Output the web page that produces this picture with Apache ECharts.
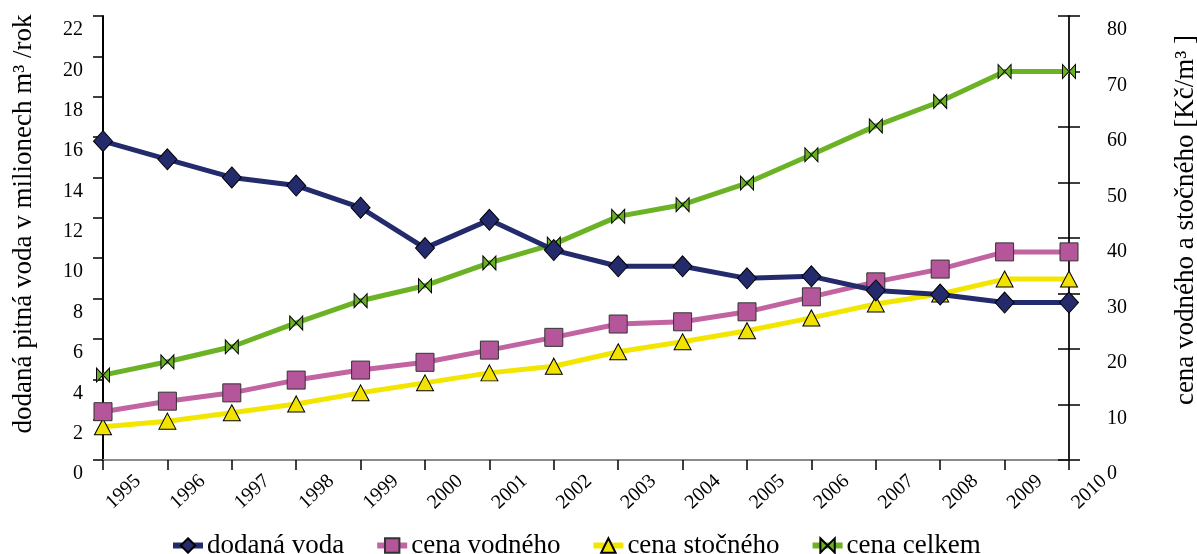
<!DOCTYPE html>
<html>
<head>
<meta charset="utf-8">
<script src="https://cdn.jsdelivr.net/npm/echarts@6/dist/echarts.min.js"></script>
<style>
  html, body { margin: 0; padding: 0; background: #fff; }
  #chart { width: 1197px; height: 554px; }
</style>
</head>
<body>
<div id="chart"></div>
<script>
// Years on the horizontal axis
const years = ['1995','1996','1997','1998','1999','2000','2001','2002','2003','2004','2005','2006','2007','2008','2009','2010'];

// Supplied drinking water, millions of m3 per year (left axis)
const dodanaVoda = [15.8, 14.9, 14.0, 13.6, 12.5, 10.5, 11.9, 10.4, 9.6, 9.6, 9.0, 9.1, 8.4, 8.2, 7.8, 7.8];

// Prices in Kč/m3 (right axis)
const cenaVodneho = [8.7, 10.6, 12.1, 14.4, 16.2, 17.6, 19.8, 22.1, 24.5, 24.9, 26.7, 29.4, 32.1, 34.4, 37.5, 37.5];
const cenaStocneho = [6.0, 7.0, 8.5, 10.1, 12.1, 13.9, 15.7, 16.9, 19.5, 21.3, 23.3, 25.6, 28.1, 29.9, 32.6, 32.6];
const cenaCelkem = [15.3, 17.7, 20.4, 24.7, 28.7, 31.4, 35.5, 38.9, 43.9, 46.0, 49.9, 55.0, 60.2, 64.6, 70.0, 70.0];

const FONT = '"Liberation Serif", "Times New Roman", serif';
const BOWTIE = 'path://M0,0 L10,10 L10,0 L0,10 Z';

const chart = echarts.init(document.getElementById('chart'), null, { renderer: 'canvas' });

const tickLabel = { fontFamily: FONT, fontSize: 20, color: '#000' };

chart.setOption({
  animation: false,
  backgroundColor: '#fff',
  textStyle: { fontFamily: FONT },
  grid: { left: 103, right: 128, top: 16, bottom: 94, containLabel: false, outerBoundsMode: 'none' },
  legend: {
    left: 165,
    top: 527,
    itemWidth: 30,
    itemHeight: 18,
    itemGap: 30,
    lineStyle: { width: 6 },
    textStyle: { fontFamily: FONT, fontSize: 27, color: '#000', padding: [0, 0, 0, -1] },
    data: ['dodaná voda', 'cena vodného', 'cena stočného', 'cena celkem']
  },
  xAxis: [
    {
      type: 'category',
      data: years,
      boundaryGap: false,
      axisLine: { lineStyle: { color: '#000', width: 2 } },
      axisTick: { show: true, length: 10, lineStyle: { color: '#000', width: 1.5 } },
      axisLabel: Object.assign({}, tickLabel, {
        rotate: 43, align: 'left', verticalAlign: 'middle', margin: 51, padding: [0, 0, 0, 8],
        interval: 0
      }),
      splitLine: { show: false }
    },
    {
      // top border of the plot
      type: 'category',
      data: years,
      boundaryGap: false,
      position: 'top',
      axisLine: { lineStyle: { color: '#8a8a8a', width: 2 } },
      axisTick: { show: false },
      axisLabel: { show: false },
      splitLine: { show: false }
    }
  ],
  yAxis: [
    {
      type: 'value',
      min: 0, max: 22, interval: 2,
      position: 'left',
      name: 'dodaná pitná voda v milionech m³ /rok',
      nameLocation: 'middle',
      nameRotate: 90,
      nameGap: 66,
      nameTextStyle: { fontFamily: FONT, fontSize: 27, color: '#000', padding: [0, 0, 0, 28] },
      axisLine: { show: true, lineStyle: { color: '#000', width: 2 } },
      axisTick: { show: true, length: 10, lineStyle: { color: '#000', width: 1.5 } },
      axisLabel: Object.assign({}, tickLabel, { margin: 20, verticalAlign: 'top', padding: [4, 0, 0, 0] }),
      splitLine: { show: false }
    },
    {
      type: 'value',
      min: 0, max: 80, interval: 10,
      position: 'right',
      name: 'cena vodného a stočného [Kč/m³ ]',
      nameLocation: 'middle',
      nameRotate: 90,
      nameGap: 103,
      nameTextStyle: { fontFamily: FONT, fontSize: 27, color: '#000', padding: [0, 0, 0, 36] },
      axisLine: { show: true, lineStyle: { color: '#222', width: 2 } },
      axisTick: { show: true, length: 11, lineStyle: { color: '#000', width: 1.5 } },
      axisLabel: Object.assign({}, tickLabel, { margin: 38, verticalAlign: 'top', padding: [4, 0, 0, 0] }),
      splitLine: { show: false }
    },
    {
      // inner half of the crossing ticks on the right axis
      type: 'value',
      min: 0, max: 80, interval: 10,
      position: 'right',
      axisLine: { show: false },
      axisTick: { show: true, inside: true, length: 11, lineStyle: { color: '#000', width: 1.5 } },
      axisLabel: { show: false },
      splitLine: { show: false }
    }
  ],
  series: [
    {
      name: 'dodaná voda',
      type: 'line',
      yAxisIndex: 0,
      data: dodanaVoda,
      z: 5,
      symbol: 'diamond',
      symbolSize: [19, 21],
      lineStyle: { color: '#232B6C', width: 5 },
      itemStyle: { color: '#232B6C', borderColor: '#000', borderWidth: 1 }
    },
    {
      name: 'cena vodného',
      type: 'line',
      yAxisIndex: 1,
      data: cenaVodneho,
      z: 4,
      symbol: 'rect',
      symbolSize: 18,
      lineStyle: { color: '#C264A2', width: 5 },
      itemStyle: { color: '#B5559A', borderColor: '#333', borderWidth: 1 }
    },
    {
      name: 'cena stočného',
      type: 'line',
      yAxisIndex: 1,
      data: cenaStocneho,
      z: 3,
      symbol: 'triangle',
      symbolSize: [17, 16],
      lineStyle: { color: '#F2E600', width: 5 },
      itemStyle: { color: '#F2E200', borderColor: '#000', borderWidth: 1 }
    },
    {
      name: 'cena celkem',
      type: 'line',
      yAxisIndex: 1,
      data: cenaCelkem,
      z: 2,
      symbol: BOWTIE,
      symbolSize: [13, 14],
      lineStyle: { color: '#6BB324', width: 5 },
      itemStyle: { color: '#6BAF28', borderColor: '#000', borderWidth: 1 }
    }
  ]
});
</script>
</body>
</html>
